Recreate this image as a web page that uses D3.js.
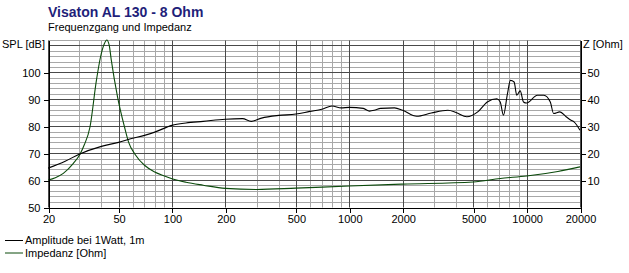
<!DOCTYPE html>
<html>
<head>
<meta charset="utf-8">
<script src="https://cdn.jsdelivr.net/npm/d3@7"></script>
<style>
  body { margin: 0; background: #fff; }
  text { font-family: "Liberation Sans", Arial, sans-serif; }
</style>
</head>
<body>
<svg id="chart"></svg>
<script>
// Chart size
const width = 629;
const height = 273;

// Frequency response (SPL, dB)
const splFreq = [20, 25, 30, 40, 50, 60, 70, 80, 100, 120, 150, 200, 250, 280, 320, 400, 500, 600, 700, 800, 900, 1000, 1200, 1300, 1400, 1500, 1800, 2000, 2400, 2900, 3600, 4000, 4600, 5300, 6000, 6800, 7100, 7400, 7800, 8100, 8500, 8800, 9200, 9600, 10000, 11500, 12500, 13600, 14200, 15400, 16700, 17800, 18500, 20000];
const splValues = [64.4, 67, 69.6, 72.5, 74, 75.5, 76.6, 77.8, 80.3, 81.2, 81.8, 82.6, 82.8, 81.8, 83, 84, 84.5, 85.5, 86.3, 87.5, 86.8, 87, 86.6, 85.6, 86, 86.6, 86.8, 85.9, 83.7, 84.9, 85.9, 85.1, 83.5, 85.3, 89, 90.2, 89, 84.1, 92.1, 97, 96.4, 91.5, 93.1, 89, 88.6, 91.5, 91.5, 89, 84.7, 85.3, 83.5, 82.2, 81.6, 78.5];

// Impedance (Ohm)
const zFreq = [20, 22, 24.4, 27.8, 30.3, 32, 34.5, 37.5, 39.5, 41.5, 42.9, 44.3, 45.5, 49.3, 54, 57, 62, 70, 80, 90, 100, 120, 150, 200, 300, 500, 1000, 2000, 5000, 7100, 10000, 15000, 20000];
const zValues = [10, 10.9, 12.5, 16.2, 19.6, 23, 29.7, 47, 55.5, 60.5, 62, 60, 54.5, 41, 29.7, 24, 19.5, 15.5, 13, 11.6, 10.5, 9.2, 8.1, 6.9, 6.5, 7, 7.8, 8.5, 9.3, 10.6, 11.5, 13.2, 14.9];

// Tick labels
const freqTicks = [20, 50, 100, 200, 500, 1000, 2000, 5000, 10000, 20000];
const splTicks = [50, 60, 70, 80, 90, 100];
const zTicks = [10, 20, 30, 40, 50];

const svg = d3.select("#chart")
    .attr("width", width)
    .attr("height", height);

// Scales
const x = d3.scaleLog().domain([20, 20000]).range([48, 580]);
const y = d3.scaleLinear().domain([50, 112]).range([207, 40]);
const z = d3.scaleLinear().domain([0, 62]).range([207, 40]);

// Grid lines
const grid = svg.append("g").attr("transform", "translate(0.5,0.5)");

const minorFreq = [];
[10, 100, 1000, 10000].forEach(dec => {
    for (let k = 1; k <= 9; k++) {
        const f = k * dec;
        if (f >= 20 && f <= 20000 && !freqTicks.includes(f)) minorFreq.push(f);
    }
});
const minorDb = d3.range(52, 113, 2).filter(v => v % 10 !== 0);
const majorDb = [60, 70, 80, 90, 100, 110];

grid.selectAll(".hminor").data(minorDb).enter().append("line")
    .attr("x1", 48).attr("x2", 580)
    .attr("y1", d => Math.round(y(d))).attr("y2", d => Math.round(y(d)))
    .attr("stroke", "#a8a8a8");

grid.selectAll(".vminor").data(minorFreq).enter().append("line")
    .attr("x1", d => Math.round(x(d))).attr("x2", d => Math.round(x(d)))
    .attr("y1", 40).attr("y2", 207)
    .attr("stroke", "#a8a8a8");

grid.selectAll(".hmajor").data(majorDb).enter().append("line")
    .attr("x1", 48).attr("x2", 580)
    .attr("y1", d => Math.round(y(d))).attr("y2", d => Math.round(y(d)))
    .attr("stroke", "#4a4a4a");

grid.selectAll(".vmajor").data(freqTicks).enter().append("line")
    .attr("x1", d => Math.round(x(d))).attr("x2", d => Math.round(x(d)))
    .attr("y1", 40).attr("y2", 207)
    .attr("stroke", "#4a4a4a");

// Curves
const clip = svg.append("defs").append("clipPath").attr("id", "plot")
    .append("rect").attr("x", 48).attr("y", 39).attr("width", 533).attr("height", 169);

const splLine = d3.line()
    .x(d => x(d[0]))
    .y(d => y(d[1]))
    .curve(d3.curveMonotoneX);

const zLine = d3.line()
    .x(d => x(d[0]))
    .y(d => z(d[1]))
    .curve(d3.curveMonotoneX);

svg.append("path")
    .datum(d3.zip(zFreq, zValues))
    .attr("clip-path", "url(#plot)")
    .attr("fill", "none")
    .attr("stroke", "#0b4a0b")
    .attr("stroke-width", 1.1)
    .attr("d", zLine);

svg.append("path")
    .datum(d3.zip(splFreq, splValues))
    .attr("clip-path", "url(#plot)")
    .attr("fill", "none")
    .attr("stroke", "#000")
    .attr("stroke-width", 1.1)
    .attr("d", splLine);

// Axes
function styleAxis(g) {
    g.selectAll("path, line").attr("stroke", "#000").attr("shape-rendering", "crispEdges");
    g.selectAll("text").attr("fill", "#000").style("font-size", "11px")
        .style("font-family", "'Liberation Sans', Arial, sans-serif");
}

svg.append("g")
    .attr("transform", "translate(48.5,0.5)")
    .call(d3.axisLeft(y).tickValues(splTicks).tickSize(5).tickSizeOuter(0).tickPadding(3))
    .call(styleAxis);

svg.append("g")
    .attr("transform", "translate(580.5,0.5)")
    .call(d3.axisRight(z).tickValues(zTicks).tickSize(5).tickSizeOuter(0).tickPadding(2))
    .call(styleAxis);

svg.append("g")
    .attr("transform", "translate(0.5,207.5)")
    .call(d3.axisBottom(x).tickValues(freqTicks).tickFormat(d3.format("d")).tickSize(5).tickSizeOuter(0).tickPadding(3))
    .call(styleAxis);

// Titles
svg.append("text")
    .attr("x", 48).attr("y", 17)
    .attr("fill", "#1f1f7a")
    .style("font-size", "14px").style("font-weight", "bold")
    .text("Visaton AL 130 - 8 Ohm");

svg.append("text")
    .attr("x", 48).attr("y", 31)
    .style("font-size", "11px")
    .text("Frequenzgang und Impedanz");

svg.append("text")
    .attr("x", 2).attr("y", 48)
    .style("font-size", "11px")
    .text("SPL [dB]");

svg.append("text")
    .attr("x", 583).attr("y", 48)
    .style("font-size", "11px")
    .text("Z [Ohm]");

// Legend
const legendItems = [
    { label: "Amplitude bei 1Watt, 1m", color: "#000" },
    { label: "Impedanz [Ohm]", color: "#0b4a0b" }
];

const legend = svg.selectAll(".legend")
    .data(legendItems)
    .enter()
    .append("g")
    .attr("transform", (d, i) => `translate(0,${240 + i * 12.5})`);

legend.append("line")
    .attr("x1", 5).attr("x2", 23)
    .attr("y1", 0.5).attr("y2", 0.5)
    .attr("stroke", d => d.color);

legend.append("text")
    .attr("x", 25).attr("y", 4)
    .style("font-size", "11px")
    .text(d => d.label);
</script>
</body>
</html>
